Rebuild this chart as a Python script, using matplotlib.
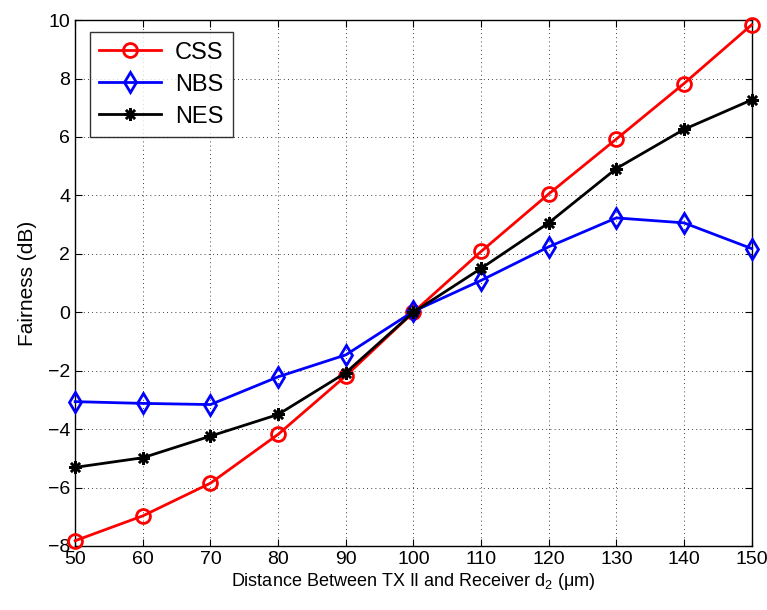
import matplotlib
matplotlib.use('Agg')
import matplotlib.pyplot as plt

plt.rcParams['font.family'] = ['Liberation Sans', 'DejaVu Sans']
plt.rcParams['mathtext.fontset'] = 'custom'
plt.rcParams['mathtext.rm'] = 'Liberation Sans'
plt.rcParams['mathtext.it'] = 'Liberation Sans'

# data
distance = [50, 60, 70, 80, 90, 100, 110, 120, 130, 140, 150]
css = [-7.82, -6.97, -5.85, -4.18, -2.18, 0.0, 2.08, 4.05, 5.93, 7.83, 9.84]
nbs = [-3.06, -3.12, -3.16, -2.21, -1.46, 0.03, 1.09, 2.24, 3.23, 3.06, 2.18]
nes = [-5.31, -4.98, -4.24, -3.5, -2.07, 0.0, 1.5, 3.06, 4.92, 6.26, 7.27]

fig = plt.figure(figsize=(7.67, 6.1), dpi=100)
ax = fig.add_axes([0.098, 0.105, 0.882, 0.862])

ax.plot(distance, css, color='red', lw=2, marker='o', ms=10, mfc='none', mew=2, label='CSS', clip_on=False, zorder=3)
ax.plot(distance, nbs, color='blue', lw=2, marker='d', ms=10, mfc='none', mew=2, label='NBS', clip_on=False, zorder=3)
ax.plot(distance, nes, color='black', lw=2, marker=(8, 2, 0), ms=9, mew=1.8, label='NES', clip_on=False, zorder=3)

ax.set_xlim(50, 150)
ax.set_ylim(-8, 10)
ax.set_xticks(range(50, 151, 10))
ax.set_yticks(range(-8, 11, 2))
ax.set_yticklabels(['\u22128', '\u22126', '\u22124', '\u22122', '0', '2', '4', '6', '8', '10'])
ax.grid(True, color='black', linestyle=(0, (1, 4)), linewidth=0.6)
ax.tick_params(direction='in', labelsize=14, length=5, top=True, right=True)
for s in ax.spines.values():
    s.set_linewidth(1)

ax.set_xlabel(r'Distance Between TX II and Receiver d$_2$ ($\mathrm{\mu}$m)', fontsize=13, labelpad=2)
ax.set_ylabel('Fairness (dB)', fontsize=15, labelpad=8)

leg = ax.legend(loc='upper left', fontsize=17, fancybox=False, edgecolor='black',
                handlelength=2.6, borderpad=0.4, labelspacing=0.42, handletextpad=0.6,
                bbox_to_anchor=(0.022, 0.977), borderaxespad=0)
leg.get_frame().set_linewidth(1)

plt.savefig('out.png', dpi=100)
